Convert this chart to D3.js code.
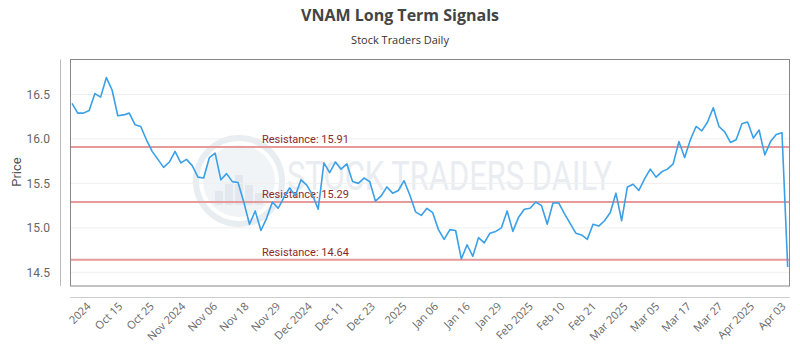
<!DOCTYPE html>
<html><head><meta charset="utf-8">
<script src="https://cdn.jsdelivr.net/npm/d3@7"></script>
<style>body{margin:0;background:#fff;}svg{display:block;}</style>
</head><body>
<svg id="c" width="800" height="350"></svg>
<script>
const title = "VNAM Long Term Signals";
const subtitle = "Stock Traders Daily";
const prices = [16.40,16.29,16.29,16.32,16.51,16.47,16.69,16.55,16.26,16.27,16.29,16.16,16.14,15.99,15.86,15.77,15.68,15.74,15.86,15.73,
15.77,15.70,15.57,15.56,15.79,15.84,15.54,15.61,15.52,15.51,15.29,15.04,15.19,14.97,15.11,15.29,15.22,15.34,15.45,15.36,
15.54,15.48,15.37,15.21,15.73,15.62,15.74,15.66,15.72,15.52,15.50,15.56,15.52,15.30,15.36,15.46,15.39,15.42,15.53,15.37,
15.18,15.14,15.22,15.17,14.98,14.87,14.98,14.97,14.65,14.81,14.68,14.89,14.83,14.94,14.96,15.00,15.19,14.96,15.12,15.21,
15.22,15.29,15.25,15.04,15.28,15.28,15.16,15.05,14.94,14.92,14.87,15.04,15.02,15.08,15.17,15.39,15.08,15.46,15.49,15.42,
15.55,15.66,15.57,15.63,15.66,15.72,15.97,15.79,15.99,16.14,16.09,16.19,16.35,16.14,16.08,15.96,15.99,16.17,16.19,16.01,
16.10,15.82,15.97,16.05,16.07,14.56];
const xTickLabels = ["2024","Oct 15","Oct 25","Nov 2024","Nov 06","Nov 18","Nov 29","Dec 2024","Dec 11","Dec 23","2025","Jan 06","Jan 16","Jan 29","Feb 2025","Feb 10","Feb 21","Mar 2025","Mar 05","Mar 17","Mar 27","Apr 2025","Apr 03"];
const yTicks = [14.5,15.0,15.5,16.0,16.5];
const resistance = [15.91,15.29,14.64];

const svg = d3.select("#c");
const L = 70, R = 790, T = 59.5, B = 286;
const x = d3.scaleLinear().domain([0, prices.length-1]).range([72, 787.7]);
const y = d3.scaleLinear().domain([14.346, 16.893]).range([B, T]);
const xLab = d3.scalePoint().domain(xTickLabels).range([89, 784]);

// titles
svg.append("text").attr("x",400).attr("y",21).attr("text-anchor","middle")
  .attr("font-family","Open Sans").attr("font-weight","bold").attr("font-size",16).attr("fill","#444").text(title);
svg.append("text").attr("x",400).attr("y",44).attr("text-anchor","middle")
  .attr("font-family","Open Sans").attr("font-size",11).attr("fill","#333").text(subtitle);

// watermark
const wm = svg.append("g").attr("opacity",1);
wm.append("circle").attr("cx",239).attr("cy",181).attr("r",43).attr("fill","none").attr("stroke","#e8edf2").attr("stroke-width",6);
wm.append("circle").attr("cx",239).attr("cy",181).attr("r",36).attr("fill","#f1f4f7");
[[-20,14],[-10,22],[0,30],[10,20],[20,12]].forEach(b=>{
  wm.append("rect").attr("x",239+b[0]-4).attr("y",205-b[1]).attr("width",8).attr("height",b[1]).attr("fill","#e3e8ee");
});
wm.append("text").attr("x",287).attr("y",190).attr("font-family","Roboto").attr("font-size",40)
  .attr("textLength",325).attr("lengthAdjust","spacingAndGlyphs").attr("fill","#e9edf1").text("STOCK TRADERS DAILY");

// grid
svg.append("g").selectAll("line").data(yTicks).join("line")
  .attr("x1",L).attr("x2",R).attr("y1",d=>y(d)).attr("y2",d=>y(d)).attr("stroke","#efefef").attr("stroke-width",1);

// y axis
const ya = svg.append("g").attr("transform","translate(60,0)")
  .call(d3.axisLeft(y).tickValues(yTicks).tickFormat(d3.format(".1f")).tickSize(0).tickPadding(10));
ya.select(".domain").attr("stroke","#bbb").attr("d",`M0.5,${T}V${B}`);
ya.selectAll("text").attr("font-family","Roboto").attr("font-size",12).attr("fill","#666");
svg.append("text").attr("transform","translate(21,172) rotate(-90)").attr("text-anchor","middle")
  .attr("font-family","Roboto").attr("font-size",13).attr("fill","#555").text("Price");

// x axis
const xa = svg.append("g").attr("transform","translate(0,297)")
  .call(d3.axisBottom(xLab).tickSize(0).tickPadding(0));
xa.select(".domain").attr("stroke","#ccc").attr("d",`M${L},0.5H${R}`);
xa.selectAll("text").attr("font-family","Open Sans").attr("font-size",11).attr("fill","#666")
  .attr("text-anchor","end").attr("dy",0).attr("transform","translate(2,10) rotate(-45)");

// resistance lines
svg.append("g").selectAll("line").data(resistance).join("line")
  .attr("x1",L).attr("x2",R).attr("y1",d=>y(d)).attr("y2",d=>y(d)).attr("stroke","#e79a9a").attr("stroke-width",2);
svg.append("g").selectAll("text").data(resistance).join("text")
  .attr("x",262).attr("y",d=>y(d)-4).attr("font-family","Roboto").attr("font-size",11).attr("fill","#8b2a2a")
  .text(d=>"Resistance: "+d.toFixed(2));

// price line
svg.append("path").datum(prices)
  .attr("d", d3.line().x((d,i)=>x(i)).y(d=>y(d)))
  .attr("fill","none").attr("stroke","#3aa0e8").attr("stroke-width",1.6).attr("stroke-linejoin","round");

// frame
svg.append("rect").attr("x",L+0.5).attr("y",T).attr("width",R-L-1).attr("height",B-T)
  .attr("fill","none").attr("stroke","#888").attr("stroke-width",1);
</script>
</body></html>
